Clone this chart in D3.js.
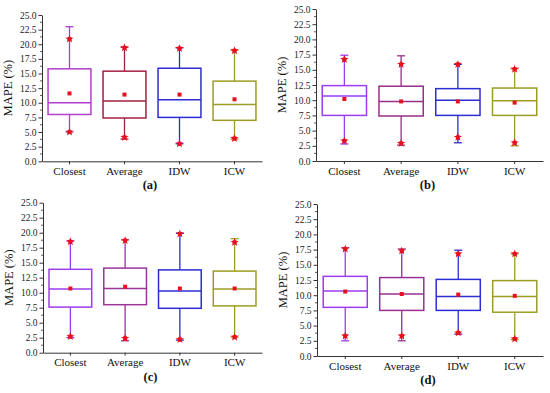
<!DOCTYPE html>
<html>
<head>
<meta charset="utf-8">
<script src="https://cdn.jsdelivr.net/npm/d3@7"></script>
<style>
  body { margin: 0; background: #fff; }
  svg { display: block; font-family: "Liberation Serif", "Times New Roman", serif; }
</style>
</head>
<body>
<svg id="chart" width="550" height="393"></svg>
<script>
"use strict";

/********/
/* data */
/********/

const methods = ["Closest", "Average", "IDW", "ICW"];
const panelLabels = ["(a)", "(b)", "(c)", "(d)"];
const yTicks = [0, 2.5, 5, 7.5, 10, 12.5, 15, 17.5, 20, 22.5, 25];

// one row per panel, one value per method
const whiskerHigh = [[23.0, 19.5, 19.4, 19.0], [17.4, 17.3, 15.9, 15.2], [18.6, 18.8, 19.9, 19.0], [17.8, 17.6, 17.4, 16.8]];
const p99 = [[20.9, 19.4, 19.3, 18.9], [16.7, 15.9, 15.9, 15.1], [18.5, 18.7, 19.8, 18.4], [17.6, 17.3, 16.8, 16.8]];
const q3 = [[15.8, 15.4, 15.9, 13.7], [12.4, 12.3, 11.9, 12.0], [13.9, 14.1, 13.8, 13.6], [13.1, 12.9, 12.6, 12.4]];
const median = [[10.0, 10.3, 10.5, 9.7], [10.7, 9.8, 10.0, 9.9], [10.6, 10.7, 10.3, 10.6], [10.7, 10.2, 9.8, 9.8]];
const mean = [[11.6, 11.4, 11.4, 10.6], [10.2, 9.8, 9.8, 9.6], [10.7, 11.0, 10.7, 10.7], [10.6, 10.2, 10.1, 9.9]];
const q1 = [[8.0, 7.4, 7.5, 7.0], [7.5, 7.4, 7.5, 7.5], [7.6, 8.0, 7.4, 7.8], [8.0, 7.5, 7.5, 7.2]];
const p1 = [[5.0, 4.1, 3.0, 3.9], [3.3, 2.9, 3.9, 3.0], [2.7, 2.4, 2.2, 2.6], [3.3, 3.3, 3.8, 2.8]];
const whiskerLow = [[5.0, 3.8, 3.0, 3.8], [2.8, 2.6, 3.0, 2.5], [2.5, 2.0, 2.1, 2.6], [2.5, 2.5, 3.6, 2.7]];

/**********/
/* layout */
/**********/

const frames = [
  { x0: 42, x1: 262, y0: 15, y1: 161.3 },
  { x0: 316, x1: 543, y0: 9, y1: 161 },
  { x0: 43, x1: 262, y0: 202.7, y1: 352.7 },
  { x0: 317, x1: 543, y0: 204, y1: 356 },
];

const colours = [
  ["#b13fcb", "#a3203e", "#2d2dd4", "#9d9d24"],
  ["#9b3df0", "#982f86", "#2d2dd4", "#9d9d24"],
  ["#9b3df0", "#9a3599", "#2d2dd4", "#9d9d24"],
  ["#9b3df0", "#9a3090", "#2d2dd4", "#9d9d24"],
];

const markerRed = "#e8101e";

/********/
/* view */
/********/

const svg = d3.select("#chart");

frames.forEach(function(f, p) {
  const g = svg.append("g");

  const x = d3.scaleBand().domain(methods).range([f.x0, f.x1]).paddingInner(0.22).paddingOuter(0.11);
  const y = d3.scaleLinear().domain([0, 25]).range([f.y1, f.y0]);

  // minor ticks
  g.append("g")
    .selectAll("line")
    .data(d3.range(1.25, 25, 2.5))
    .join("line")
    .attr("x1", f.x0 - 2)
    .attr("x2", f.x0)
    .attr("y1", d => y(d))
    .attr("y2", d => y(d))
    .attr("stroke", "#333")
    .attr("stroke-width", 0.8);

  const yAxis = g.append("g")
    .attr("transform", "translate(" + f.x0 + ",0)")
    .call(d3.axisLeft(y).tickValues(yTicks).tickFormat(d3.format(".1f")).tickSize(3.5).tickSizeOuter(0).tickPadding(2));
  yAxis.attr("font-family", null);
  yAxis.selectAll("text").attr("font-size", "9.5px").attr("fill", "#222");
  yAxis.selectAll("line, path").attr("stroke", "#333");

  const xAxis = g.append("g")
    .attr("transform", "translate(0," + f.y1 + ")")
    .call(d3.axisBottom(x).tickSize(3).tickSizeOuter(0).tickPadding(3));
  xAxis.attr("font-family", null);
  xAxis.selectAll("text").attr("font-size", "11px").attr("fill", "#111");
  xAxis.selectAll("line, path").attr("stroke", "#333");

  g.append("text")
    .attr("transform", "translate(" + (f.x0 - 30) + "," + ((f.y0 + f.y1) / 2) + ") rotate(-90)")
    .attr("text-anchor", "middle")
    .attr("font-size", "12.5px")
    .attr("fill", "#111")
    .text("MAPE (%)");

  g.append("text")
    .attr("x", (f.x0 + f.x1) / 2 - 2)
    .attr("y", f.y1 + 28)
    .attr("text-anchor", "middle")
    .attr("font-size", "12.5px")
    .attr("font-weight", "bold")
    .attr("fill", "#111")
    .text(panelLabels[p]);

  const bw = x.bandwidth();

  methods.forEach(function(m, i) {
    const c = colours[p][i];
    const cx = x(m) + bw / 2;
    const box = g.append("g");

    // whiskers
    box.append("line")
      .attr("x1", cx).attr("x2", cx)
      .attr("y1", y(q3[p][i])).attr("y2", y(whiskerHigh[p][i]))
      .attr("stroke", c).attr("stroke-width", 1.3);
    box.append("line")
      .attr("x1", cx).attr("x2", cx)
      .attr("y1", y(q1[p][i])).attr("y2", y(whiskerLow[p][i]))
      .attr("stroke", c).attr("stroke-width", 1.3);
    [whiskerHigh[p][i], whiskerLow[p][i]].forEach(function(v) {
      box.append("line")
        .attr("x1", cx - 4).attr("x2", cx + 4)
        .attr("y1", y(v)).attr("y2", y(v))
        .attr("stroke", c).attr("stroke-width", 1.3);
    });

    // box
    box.append("rect")
      .attr("x", x(m))
      .attr("y", y(q3[p][i]))
      .attr("width", bw)
      .attr("height", y(q1[p][i]) - y(q3[p][i]))
      .attr("fill", "#fff")
      .attr("stroke", c)
      .attr("stroke-width", 1.5);
    box.append("line")
      .attr("x1", x(m)).attr("x2", x(m) + bw)
      .attr("y1", y(median[p][i])).attr("y2", y(median[p][i]))
      .attr("stroke", c).attr("stroke-width", 1.5);

    // mean
    box.append("rect")
      .attr("x", cx - 2).attr("y", y(mean[p][i]) - 2)
      .attr("width", 4).attr("height", 4)
      .attr("fill", markerRed);

    // 1% / 99%
    [p1[p][i], p99[p][i]].forEach(function(v) {
      box.append("path")
        .attr("d", d3.symbol().type(d3.symbolStar).size(22)())
        .attr("transform", "translate(" + cx + "," + y(v) + ")")
        .attr("fill", markerRed);
      box.append("rect")
        .attr("x", cx - 2).attr("y", y(v) - 2)
        .attr("width", 4).attr("height", 4)
        .attr("fill", markerRed);
    });
  });
});
</script>
</body>
</html>
